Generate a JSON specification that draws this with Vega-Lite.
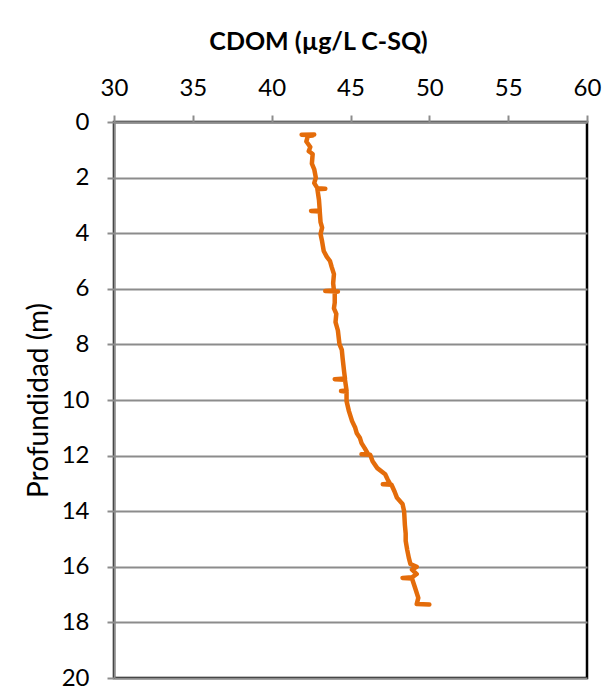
{
  "$schema": "https://vega.github.io/schema/vega-lite/v6.json",
  "width": 473,
  "height": 556,
  "autosize": "none",
  "padding": {"left": 114, "top": 122, "right": 27, "bottom": 10},
  "background": "white",
  "config": {
    "font": "Lato",
    "view": {"stroke": "black", "strokeWidth": 2.5}
  },
  "data": {
    "values": [
      {"depth": 0.45, "cdom": 42.7},
      {"depth": 0.46, "cdom": 41.9},
      {"depth": 0.47, "cdom": 42.2},
      {"depth": 0.49, "cdom": 42.6},
      {"depth": 0.5, "cdom": 42.3},
      {"depth": 0.7, "cdom": 42.2},
      {"depth": 0.9, "cdom": 42.45},
      {"depth": 1.05, "cdom": 42.35},
      {"depth": 1.15, "cdom": 42.6},
      {"depth": 1.5, "cdom": 42.55},
      {"depth": 1.7, "cdom": 42.7},
      {"depth": 2.0, "cdom": 42.8},
      {"depth": 2.2, "cdom": 42.7},
      {"depth": 2.38, "cdom": 42.9},
      {"depth": 2.4, "cdom": 43.4},
      {"depth": 2.42, "cdom": 42.9},
      {"depth": 2.8, "cdom": 43.0},
      {"depth": 3.18, "cdom": 43.05},
      {"depth": 3.2, "cdom": 42.5},
      {"depth": 3.22, "cdom": 43.05},
      {"depth": 3.6, "cdom": 43.1},
      {"depth": 3.8, "cdom": 43.2},
      {"depth": 4.03, "cdom": 43.1},
      {"depth": 4.3, "cdom": 43.2},
      {"depth": 4.64, "cdom": 43.3},
      {"depth": 4.85, "cdom": 43.5},
      {"depth": 5.0, "cdom": 43.7},
      {"depth": 5.2, "cdom": 43.8},
      {"depth": 5.47, "cdom": 43.95},
      {"depth": 5.8, "cdom": 43.9},
      {"depth": 6.06, "cdom": 43.95},
      {"depth": 6.08, "cdom": 43.4},
      {"depth": 6.1, "cdom": 44.2},
      {"depth": 6.12, "cdom": 44.0},
      {"depth": 6.5, "cdom": 44.0},
      {"depth": 6.7, "cdom": 43.95},
      {"depth": 6.9, "cdom": 44.1},
      {"depth": 7.2, "cdom": 44.05},
      {"depth": 7.5, "cdom": 44.2},
      {"depth": 7.99, "cdom": 44.3},
      {"depth": 8.2, "cdom": 44.45},
      {"depth": 8.5, "cdom": 44.5},
      {"depth": 9.0, "cdom": 44.6},
      {"depth": 9.23, "cdom": 44.65},
      {"depth": 9.25, "cdom": 44.0},
      {"depth": 9.27, "cdom": 44.65},
      {"depth": 9.66, "cdom": 44.75},
      {"depth": 9.68, "cdom": 44.4},
      {"depth": 9.7, "cdom": 44.75},
      {"depth": 10.04, "cdom": 44.75},
      {"depth": 10.4, "cdom": 44.9},
      {"depth": 10.76, "cdom": 45.1},
      {"depth": 11.0, "cdom": 45.3},
      {"depth": 11.2, "cdom": 45.4},
      {"depth": 11.37, "cdom": 45.6},
      {"depth": 11.55, "cdom": 45.7},
      {"depth": 11.73, "cdom": 45.9},
      {"depth": 11.93, "cdom": 46.1},
      {"depth": 11.95, "cdom": 45.7},
      {"depth": 11.97, "cdom": 46.25},
      {"depth": 12.2, "cdom": 46.4},
      {"depth": 12.45, "cdom": 46.7},
      {"depth": 12.67, "cdom": 47.2},
      {"depth": 12.85, "cdom": 47.35},
      {"depth": 13.01, "cdom": 47.5},
      {"depth": 13.03, "cdom": 47.05},
      {"depth": 13.05, "cdom": 47.6},
      {"depth": 13.3, "cdom": 47.8},
      {"depth": 13.52, "cdom": 47.95},
      {"depth": 13.74, "cdom": 48.3},
      {"depth": 14.0, "cdom": 48.4},
      {"depth": 14.5, "cdom": 48.45},
      {"depth": 14.8, "cdom": 48.5},
      {"depth": 15.07, "cdom": 48.5},
      {"depth": 15.4, "cdom": 48.6},
      {"depth": 15.68, "cdom": 48.7},
      {"depth": 15.9, "cdom": 48.8},
      {"depth": 16.0, "cdom": 49.2},
      {"depth": 16.1, "cdom": 48.9},
      {"depth": 16.26, "cdom": 49.2},
      {"depth": 16.38, "cdom": 48.9},
      {"depth": 16.4, "cdom": 48.3},
      {"depth": 16.42, "cdom": 48.9},
      {"depth": 16.76, "cdom": 49.1},
      {"depth": 17.12, "cdom": 49.3},
      {"depth": 17.34, "cdom": 49.2},
      {"depth": 17.36, "cdom": 50.0}
    ]
  },
  "mark": {"type": "line", "color": "#E46C0A", "strokeWidth": 4.5, "strokeJoin": "round", "strokeCap": "round"},
  "encoding": {
    "x": {
      "field": "cdom",
      "type": "quantitative",
      "scale": {"domain": [30, 60], "nice": false, "zero": false},
      "axis": {
        "orient": "top",
        "title": "CDOM (µg/L C-SQ)",
        "titleFont": "Lato",
        "titleFontSize": 25,
        "titleFontWeight": "bold",
        "titleColor": "black",
        "titlePadding": 22,
        "titleX": 204,
        "titleAlign": "center",
        "values": [30, 35, 40, 45, 50, 55, 60],
        "labelFont": "Lato",
        "labelFontSize": 24,
        "labelColor": "black",
        "labelPadding": 15,
        "grid": false,
        "domainColor": "#8C8C8C",
        "domainWidth": 2,
        "tickColor": "#8C8C8C",
        "tickWidth": 2,
        "tickSize": 7,
        "labelFlush": false
      }
    },
    "y": {
      "field": "depth",
      "type": "quantitative",
      "scale": {"domain": [0, 20], "reverse": true, "nice": false},
      "axis": {
        "title": "Profundidad (m)",
        "titleFont": "Lato",
        "titleFontSize": 28,
        "titleFontWeight": "normal",
        "titleColor": "black",
        "titlePadding": 8,
        "values": [0, 2, 4, 6, 8, 10, 12, 14, 16, 18, 20],
        "labelFont": "Lato",
        "labelFontSize": 24,
        "labelColor": "black",
        "labelPadding": 18,
        "grid": true,
        "gridColor": "#8C8C8C",
        "gridWidth": 2,
        "domainColor": "#8C8C8C",
        "domainWidth": 2,
        "tickColor": "#8C8C8C",
        "tickWidth": 2,
        "tickSize": 7,
        "labelFlush": false
      }
    },
    "order": {"field": "depth", "type": "quantitative"}
  }
}
